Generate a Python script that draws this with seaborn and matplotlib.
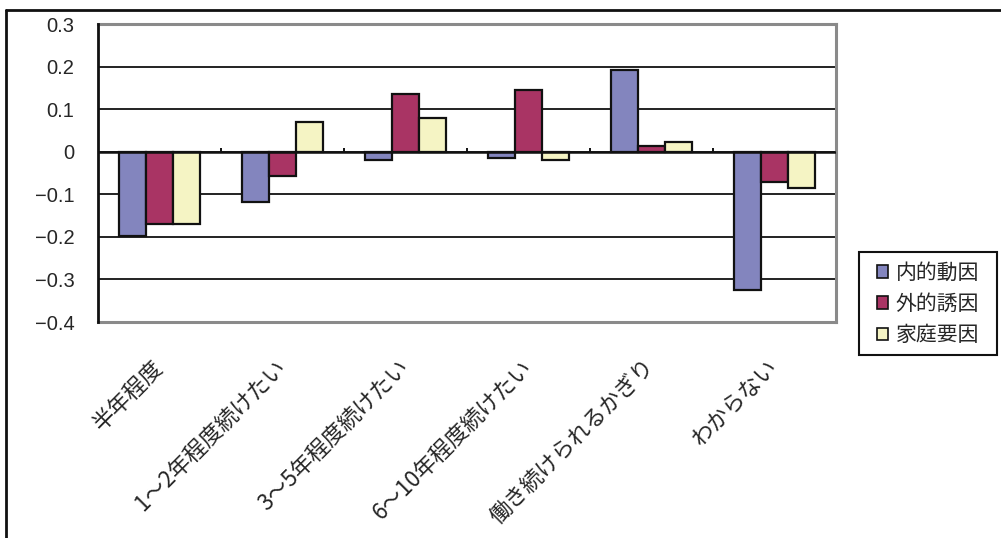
import matplotlib
matplotlib.use("Agg")
import matplotlib.pyplot as plt
from matplotlib.lines import Line2D
from matplotlib.patches import Patch, Rectangle
import seaborn as sns
import pandas as pd
import numpy as np

categories = ["半年程度", "1～2年程度続けたい", "3～5年程度続けたい",
              "6～10年程度続けたい", "働き続けられるかぎり", "わからない"]
series_names = ["内的動因", "外的誘因", "家庭要因"]
internal = [-0.197, -0.117, -0.020, -0.015, 0.193, -0.325]
external = [-0.169, -0.056, 0.135, 0.146, 0.014, -0.070]
family = [-0.169, 0.069, 0.080, -0.020, 0.023, -0.085]
y_ticks = [0.3, 0.2, 0.1, 0, -0.1, -0.2, -0.3, -0.4]
y_tick_labels = ["0.3", "0.2", "0.1", "0", "−0.1", "−0.2", "−0.3", "−0.4"]

colors = ["#8385BE", "#A93464", "#F5F4C4"]

df = pd.DataFrame({
    "category": categories * 3,
    "series": [s for s in series_names for _ in categories],
    "value": internal + external + family,
})

sns.set_theme(style="white")
plt.rcParams["font.family"] = ["Noto Sans CJK JP", "DejaVu Sans"]

W, H = 1001, 538
fig = plt.figure(figsize=(W / 100, H / 100), dpi=100)
ax = fig.add_axes([98 / W, 1 - 322 / H, (836 - 98) / W, (322 - 24) / H])

sns.barplot(data=df, x="category", y="value", hue="series",
            order=categories, hue_order=series_names, palette=colors,
            width=0.66, edgecolor="#111111", linewidth=1.6,
            saturation=1, errorbar=None, legend=False, ax=ax, zorder=3)

ax.set_ylim(-0.4, 0.3)
ax.set_xlim(-0.5, len(categories) - 0.5)
ax.set_yticks(y_ticks)
ax.set_yticklabels(y_tick_labels, fontsize=14.5, family=["Liberation Sans", "DejaVu Sans"])
for y in y_ticks:
    if -0.4 < y < 0.3:
        ax.axhline(y, color="#111111", lw=1.3, zorder=1)
ax.axhline(0, color="#111111", lw=1.8, zorder=4)

# small category separators on the zero line
for b in np.arange(0.5, len(categories) - 0.5, 1.0):
    ax.plot([b, b], [0, 0.0085], color="#111111", lw=1.4, zorder=4,
            solid_capstyle="butt")

ax.set_xticks(range(len(categories)))
ax.set_xticklabels(categories, rotation=45, ha="right", va="center",
                   rotation_mode="anchor", fontsize=16)
ax.tick_params(axis="x", length=0, pad=30)
ax.tick_params(axis="y", length=3, width=1.2, color="#111111", pad=14, direction="out")
ax.set_xlabel("")
ax.set_ylabel("")

for side in ["top", "right", "bottom"]:
    ax.spines[side].set_color("#8a8a8a")
    ax.spines[side].set_linewidth(2.2)
ax.spines["left"].set_color("#111111")
ax.spines["left"].set_linewidth(2.0)
ax.spines["left"].set_zorder(5)

# legend box with its entries
fig.add_artist(Rectangle((859 / W, 1 - 355 / H), (997 - 859) / W, (355 - 252) / H,
                         transform=fig.transFigure, facecolor="white",
                         edgecolor="#111111", lw=1.5))
handles = [Patch(facecolor=c, edgecolor="#111111", linewidth=1.2) for c in colors]
leg = fig.legend(handles, series_names, loc="center",
                 bbox_to_anchor=(928 / W, 1 - 304 / H), fontsize=15,
                 frameon=False, handlelength=0.55, handleheight=0.55,
                 handletextpad=0.35, borderpad=0, labelspacing=0.45,
                 borderaxespad=0)

# outer chart frame
fig.add_artist(Line2D([6 / W, 6 / W], [0, 1 - 10 / H], transform=fig.transFigure,
                      color="#111111", lw=2.0))
fig.add_artist(Line2D([6 / W, 1], [1 - 10 / H, 1 - 10 / H], transform=fig.transFigure,
                      color="#111111", lw=2.0))

fig.savefig("out.png", dpi=100)
